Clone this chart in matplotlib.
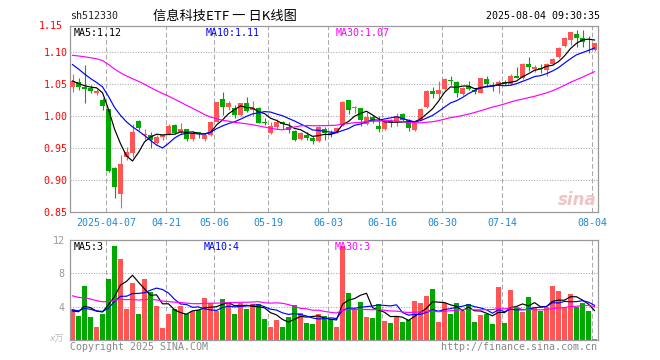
import numpy as np
import pandas as pd
import matplotlib
matplotlib.use('Agg')
import matplotlib.pyplot as plt

''''''''''''''''''''''''''''''''''''''
# 数据：信息科技ETF sh512330 日K
''''''''''''''''''''''''''''''''''''''
stock_code = 'sh512330'
title = '信息科技ETF 一 日K线图'
stamp = '2025-08-04 09:30:35'

holidays = ['2025-04-04', '2025-05-01', '2025-05-02', '2025-05-05', '2025-06-02']
tick_dates = ['2025-04-07', '2025-04-21', '2025-05-06', '2025-05-19', '2025-06-03',
              '2025-06-16', '2025-06-30', '2025-07-14', '2025-08-04']

opens = [1.046, 1.0526, 1.0458, 1.0433, 1.0355, 1.025, 1.0105, 0.919, 0.878, 0.9364,
         0.9417, 0.992, 0.970, 0.970, 0.9573, 0.967, 0.972, 0.986, 0.9755, 0.979,
         0.964, 0.9755, 0.964, 0.9703, 0.991, 1.0266, 1.0136, 1.012, 1.0016, 1.0208,
         1.0095, 1.013, 0.990, 0.9735, 0.9833, 0.991, 0.9823, 0.977, 0.9636, 0.9703,
         0.966, 0.9615, 0.979, 0.974, 0.9755, 0.986, 1.025, 1.0125, 1.012, 0.988,
         0.999, 0.9844, 0.980, 0.992, 0.990, 1.003, 0.994, 0.978, 0.995, 1.0143,
         1.0388, 1.034, 1.042, 1.056, 1.0536, 1.034, 1.047, 1.0404, 1.0365, 1.0573,
         1.049, 1.0484, 1.0536, 1.0495, 1.0625, 1.0589, 1.0813, 1.0729, 1.0745, 1.072,
         1.0807, 1.0917, 1.1094, 1.119, 1.128, 1.1214, 1.113, 1.103]
highs = [1.066, 1.0589, 1.080, 1.0484, 1.0417, 1.0277, 1.0105, 0.920, 0.939, 0.951,
         0.9878, 0.993, 0.979, 0.9755, 0.971, 0.972, 0.987, 0.9875, 0.9895, 0.980,
         0.9766, 0.9755, 0.973, 0.992, 1.0225, 1.038, 1.0235, 1.017, 1.021, 1.029,
         1.0235, 1.0145, 0.997, 0.991, 0.995, 0.9915, 0.990, 0.978, 0.9755, 0.9755,
         0.9688, 0.9844, 0.9823, 0.978, 0.9833, 1.0235, 1.025, 1.016, 1.012, 1.007,
         1.0016, 1.000, 0.991, 0.996, 1.004, 1.004, 0.995, 0.991, 1.013, 1.0414,
         1.0456, 1.054, 1.0589, 1.0625, 1.055, 1.046, 1.055, 1.043, 1.0589, 1.0625,
         1.053, 1.057, 1.056, 1.0656, 1.077, 1.0823, 1.0917, 1.0797, 1.0813, 1.0823,
         1.090, 1.1073, 1.124, 1.1318, 1.134, 1.135, 1.125, 1.1146]
lows = [1.038, 1.0406, 1.020, 1.0355, 1.0333, 1.0094, 0.912, 0.8714, 0.8555, 0.931,
        0.936, 0.978, 0.9625, 0.9495, 0.956, 0.9625, 0.970, 0.972, 0.972, 0.9614,
        0.9614, 0.966, 0.9614, 0.9688, 0.990, 1.0016, 1.009, 0.9964, 1.0005, 1.0067,
        1.000, 0.9886, 0.986, 0.9724, 0.9797, 0.980, 0.973, 0.961, 0.962, 0.9625,
        0.957, 0.960, 0.9625, 0.9677, 0.973, 0.984, 1.0027, 1.005, 0.985, 0.986,
        0.9896, 0.9755, 0.978, 0.983, 0.984, 0.9922, 0.977, 0.976, 0.994, 1.0128,
        1.0289, 1.0274, 1.0404, 1.0484, 1.0302, 1.033, 1.0404, 1.034, 1.0355, 1.0456,
        1.039, 1.036, 1.048, 1.0484, 1.0589, 1.058, 1.0708, 1.0693, 1.0667, 1.0625,
        1.079, 1.090, 1.108, 1.111, 1.108, 1.108, 1.098, 1.102]
closes = [1.054, 1.0448, 1.0427, 1.0396, 1.0391, 1.016, 0.9141, 0.8895, 0.925, 0.9442,
          0.9755, 0.9808, 0.972, 0.9625, 0.967, 0.970, 0.9844, 0.974, 0.9797, 0.964,
          0.974, 0.972, 0.9703, 0.991, 1.0223, 1.0136, 1.0208, 1.0016, 1.0208, 1.0083,
          1.012, 0.9896, 0.9885, 0.9844, 0.991, 0.9875, 0.978, 0.9625, 0.974, 0.965,
          0.9615, 0.9833, 0.973, 0.972, 0.982, 1.0215, 1.009, 1.0136, 0.994, 0.999,
          0.9927, 0.979, 0.990, 0.990, 1.000, 0.994, 0.981, 0.9896, 1.0117, 1.0393,
          1.0341, 1.0414, 1.0578, 1.055, 1.0354, 1.0443, 1.042, 1.037, 1.0589, 1.0495,
          1.047, 1.0536, 1.050, 1.0625, 1.060, 1.0807, 1.077, 1.077, 1.073, 1.0807,
          1.0885, 1.1057, 1.1214, 1.1307, 1.1214, 1.115, 1.112, 1.1146]
# 成交量(万)
volumes = [3.68, 2.88, 6.48, 2.76, 1.56, 3.12, 7.32, 11.28, 9.72, 3.72,
           6.84, 3.12, 7.32, 5.76, 4.08, 1.44, 3.12, 3.72, 4.08, 3.12,
           3.48, 3.56, 5.04, 4.44, 3.48, 4.92, 4.6, 3.12, 4.48, 3.72,
           4.32, 4.28, 2.52, 1.56, 2.4, 1.56, 2.72, 4.2, 3.24, 2.04,
           1.92, 3.08, 2.88, 2.55, 1.6, 11.28, 5.68, 3.72, 4.6, 2.76,
           2.64, 4.32, 2.32, 2.0, 2.88, 2.16, 2.4, 4.68, 4.48, 5.28,
           6.12, 2.16, 4.4, 3.12, 4.44, 3.48, 4.3, 2.2, 3.0, 3.1,
           1.9, 6.4, 2.0, 6.0, 3.84, 3.4, 5.2, 4.0, 3.5, 4.0,
           6.52, 5.88, 4.0, 5.56, 4.0, 4.5, 3.44, 0.16]

# 窗口之前的收盘价/成交量(估计值，只用于均线起点)
prior_closes = [1.075, 1.08, 1.085, 1.09, 1.095, 1.10, 1.105, 1.10, 1.095, 1.10,
                1.105, 1.11, 1.115, 1.11, 1.105, 1.11, 1.115, 1.12, 1.115, 1.11,
                1.115, 1.12, 1.11, 1.10, 1.085, 1.065, 1.06, 1.05, 1.045]
prior_volumes = [8.5, 7.8, 7.2, 7.5, 7.0, 7.1, 6.2, 5.8, 5.5, 6.0,
                 5.4, 5.2, 5.6, 5.8, 5.3, 5.5, 5.6, 5.2, 5.4, 5.4,
                 3.8, 3.6, 3.9, 3.5, 3.7, 3.4, 3.2, 3.6, 3.6]

ma_labels = ['MA5:1.12', 'MA10:1.11', 'MA30:1.07']
vol_labels = ['MA5:3', 'MA10:4', 'MA30:3']

''''''''''''''''''''''''''''''''''''''
# 整理
''''''''''''''''''''''''''''''''''''''
dates = pd.bdate_range('2025-03-27', '2025-08-04')
dates = dates[~dates.isin(pd.to_datetime(holidays))]
n = len(dates)
x = np.arange(n)

df = pd.DataFrame({'open': opens, 'high': highs, 'low': lows, 'close': closes,
                   'volume': volumes}, index=dates)
cl = pd.Series(prior_closes + closes)
vo = pd.Series(prior_volumes + volumes)
k = len(prior_closes)
for w in (5, 10, 30):
    df['ma%d' % w] = cl.rolling(w).mean().values[k:]
    df['vma%d' % w] = vo.rolling(w).mean().values[k:]

up = df['close'] >= df['open']
RED, GREEN = '#ff5555', '#00a800'
col = np.where(up, RED, GREEN)

tick_idx = np.array([dates.get_loc(pd.Timestamp(d)) for d in tick_dates])
tick_lab = [tick_dates[0]] + [d[5:] for d in tick_dates[1:]]

''''''''''''''''''''''''''''''''''''''
# 画图
''''''''''''''''''''''''''''''''''''''
W, H = 660, 360
mono = ['DejaVu Sans Mono', 'Noto Sans CJK SC']
plt.rcParams['font.family'] = mono
plt.rcParams['font.size'] = 7.2

fig = plt.figure(figsize=(W / 100, H / 100), dpi=100)
fig.patch.set_facecolor('white')


def px(xp, yp):
    return xp / W, 1 - yp / H


ax = fig.add_axes([69.5 / W, (H - 212) / H, 528 / W, 186 / H])
axv = fig.add_axes([69.5 / W, (H - 340) / H, 528 / W, 100 / H])

grid_c = '#aaaaaa'
for a in (ax, axv):
    a.set_xlim(-0.5, n - 0.5)
    for s in a.spines.values():
        s.set_color('#999999')
        s.set_linewidth(0.9)
    for t in tick_idx:
        a.axvline(t - 0.4, color=grid_c, lw=0.75, ls=(0, (4.5, 2.5)), zorder=0)

# K线
ax.set_ylim(0.85, 0.85 + 186 / 640)
for yv in [0.90, 0.95, 1.00, 1.05, 1.10]:
    ax.axhline(yv, color=grid_c, lw=0.75, ls=(0, (1, 1.5)), zorder=0)
body = np.maximum((df['close'] - df['open']).abs().values, 0.0012)
ax.vlines(x, df['low'], df['high'], colors=col, lw=0.8, zorder=2)
ax.bar(x, body, bottom=np.minimum(df['open'], df['close']), width=0.78,
       color=col, lw=0, zorder=3)
ax.plot(x, df['ma5'], color='black', lw=0.85, zorder=4)
ax.plot(x, df['ma10'], color='#0000ff', lw=0.85, zorder=4)
ax.plot(x, df['ma30'], color='#ff00ff', lw=0.85, zorder=4)

ax.set_yticks([0.85, 0.90, 0.95, 1.00, 1.05, 1.10])
ax.set_yticklabels(['%.2f' % v for v in ax.get_yticks()])
ax.tick_params(axis='y', length=0, pad=1.2, colors='red', labelsize=7.2)
ax.set_xticks(tick_idx - 0.4)
ax.set_xticklabels(tick_lab)
ax.tick_params(axis='x', length=0, pad=4, colors='#1e88d8', labelsize=7.2)
ax.text(-0.013, 1.0, '1.15', transform=ax.transAxes, ha='right', va='center',
        color='red', fontsize=7.2)

# 成交量
axv.set_ylim(0, 12)
for yv in [4, 8]:
    axv.axhline(yv, color=grid_c, lw=0.75, ls=(0, (1, 1.5)), zorder=0)
axv.bar(x, df['volume'], width=0.78, color=col, lw=0, zorder=2)
axv.plot(x, df['vma5'], color='black', lw=0.85, zorder=3)
axv.plot(x, df['vma10'], color='#0000ff', lw=0.85, zorder=3)
axv.plot(x, df['vma30'], color='#ff00ff', lw=0.85, zorder=3)
axv.set_yticks([4, 8, 12])
axv.set_yticklabels(['4', '8', '12'])
axv.tick_params(axis='y', length=0, pad=3.5, colors='#999999', labelsize=7.2)
axv.set_xticks([])

# 文字
fig.text(*px(70, 16), stock_code, ha='left', va='center', color='#222222')
fig.text(*px(225, 16), title, ha='center', va='center', fontsize=9.5,
         family=['Noto Sans CJK SC', 'DejaVu Sans'], color='black')
fig.text(*px(600, 16), stamp, ha='right', va='center', color='black')

for lab, xp, c in zip(ma_labels, [74, 206, 336], ['black', '#0000ff', '#ff00ff']):
    fig.text(*px(xp, 33), lab, ha='left', va='center', color=c)
for lab, xp, c in zip(vol_labels, [74, 204, 335], ['black', '#0000ff', '#ff00ff']):
    fig.text(*px(xp, 247), lab, ha='left', va='center', color=c)

fig.text(*px(64, 339), 'x万', ha='right', va='center', color='#bbbbbb', fontsize=6.5,
         style='italic')
fig.text(*px(70, 347), 'Copyright 2025 SINA.COM', ha='left', va='center', color='#888888')
fig.text(*px(597, 347), 'http://finance.sina.com.cn', ha='right', va='center',
         color='#888888')
fig.text(*px(577, 200), 'sina', ha='center', va='center', color='#f0c4c4',
         fontsize=12, style='italic', weight='bold', family='DejaVu Sans')

fig.savefig('out.png', dpi=100, facecolor='white')
